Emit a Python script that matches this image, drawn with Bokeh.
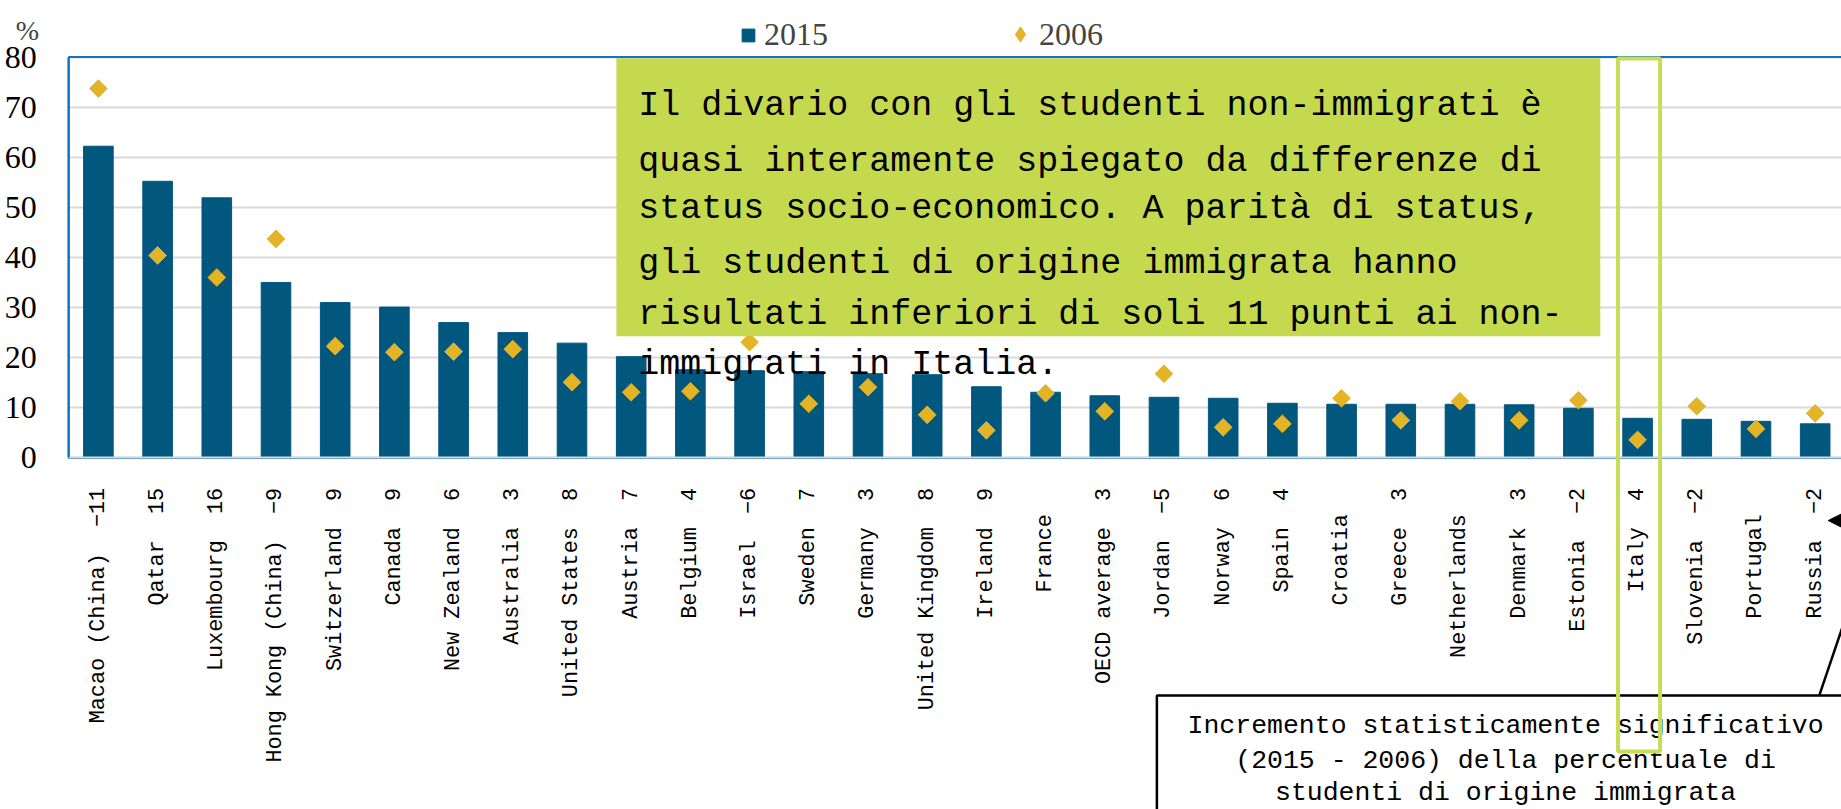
import numpy as np
from bokeh.plotting import figure
from bokeh.models import (ColumnDataSource, FixedTicker, BoxAnnotation, Label,
                          Legend, LegendItem, Arrow, NormalHead, Range1d)
from bokeh.embed import file_html
from bokeh.resources import INLINE

# ---------------- data ----------------
countries = ["Macao (China)", "Qatar", "Luxembourg", "Hong Kong (China)", "Switzerland",
             "Canada", "New Zealand", "Australia", "United States", "Austria", "Belgium",
             "Israel", "Sweden", "Germany", "United Kingdom", "Ireland", "France",
             "OECD average", "Jordan", "Norway", "Spain", "Croatia", "Greece", "Netherlands",
             "Denmark", "Estonia", "Italy", "Slovenia", "Portugal", "Russia"]
change_2015_2006 = ["\u221211", "15", "16", "\u22129", "9", "9", "6", "3", "8", "7", "4",
                    "\u22126", "7", "3", "8", "9", "", "3", "\u22125", "6", "4", "", "3", "",
                    "3", "\u22122", "4", "\u22122", "", "\u22122"]
share_2015 = [62.2, 55.2, 51.9, 35.0, 31.0, 30.1, 27.0, 25.0, 22.9, 20.2, 17.6, 17.4, 17.2,
              16.8, 16.6, 14.2, 13.1, 12.4, 12.1, 11.9, 10.9, 10.7, 10.7, 10.7, 10.6, 9.9,
              7.9, 7.7, 7.3, 6.8]
share_2006 = [73.7, 40.4, 36.0, 43.7, 22.3, 21.1, 21.2, 21.7, 15.1, 13.1, 13.3, 23.1, 10.8,
              14.1, 8.6, 5.5, 12.9, 9.3, 16.8, 6.1, 6.8, 11.9, 7.5, 11.3, 7.5, 11.5, 3.6,
              10.3, 5.8, 8.9]
y_ticks = [0, 10, 20, 30, 40, 50, 60, 70, 80]
series_names = ["2015", "2006"]

note_lines = ["Il divario con gli studenti non-immigrati è",
              "quasi interamente spiegato da differenze di",
              "status socio-economico. A parità di status,",
              "gli studenti di origine immigrata hanno",
              "risultati inferiori di soli 11 punti ai non-",
              "immigrati in Italia."]
callout_lines = ["Incremento statisticamente significativo",
                 "(2015 - 2006) della percentuale di",
                 "studenti di origine immigrata"]

# ---------------- styling ----------------
BAR = "#02577F"
GOLD = "#E3B426"
BLUE = "#1172C8"
GRID = "#D9D9D9"
LIME = "#C5D94E"
ITALY = "#C8DC55"
MONO = "Liberation Mono"
SERIF = "Liberation Serif"

W, H = 1841, 809

xs = list(range(len(countries)))
labels = [f"{c}\u00a0\u00a0{v}" if v else f"{c}\u00a0\u00a0"
          for c, v in zip(countries, change_2015_2006)]
src = ColumnDataSource(dict(x=xs, v2015=share_2015, v2006=share_2006, name=countries))

# the frame covers the whole canvas; axes sit at fixed data locations
p = figure(width=W, height=H, output_backend="svg", toolbar_location=None,
           x_range=Range1d(-1.6537, 29.4446), y_range=Range1d(-70.166, 91.279),
           min_border=0, min_border_left=0, min_border_right=0,
           min_border_top=0, min_border_bottom=0)
p.outline_line_color = None
p.background_fill_color = "white"

ticker_y = FixedTicker(ticks=y_ticks)
p.xgrid.grid_line_color = None
p.ygrid.ticker = ticker_y
p.ygrid.grid_line_color = GRID
p.ygrid.grid_line_width = 2

p.yaxis.fixed_location = -0.5
p.yaxis.bounds = (0, 80)
p.yaxis.ticker = ticker_y
p.yaxis.major_tick_line_color = None
p.yaxis.minor_tick_line_color = None
p.yaxis.axis_line_color = BLUE
p.yaxis.axis_line_width = 2
p.yaxis.major_label_text_font = SERIF
p.yaxis.major_label_text_font_size = "32px"
p.yaxis.major_label_text_color = "black"
p.yaxis.major_label_standoff = 26

p.xaxis.fixed_location = 0
p.xaxis.bounds = (-0.5, 29.5)
p.xaxis.ticker = FixedTicker(ticks=xs)
p.xaxis.major_label_overrides = {i: lab for i, lab in zip(xs, labels)}
p.xaxis.major_label_orientation = np.pi / 2
p.xaxis.major_tick_line_color = None
p.xaxis.minor_tick_line_color = None
p.xaxis.axis_line_color = GRID
p.xaxis.axis_line_width = 2
p.xaxis.major_label_text_font = MONO
p.xaxis.major_label_text_font_size = "21.8px"
p.xaxis.major_label_text_color = "black"
p.xaxis.major_label_standoff = 24

# hide grid lines left of the plot area, and draw the blue top/left border
p.add_layout(BoxAnnotation(left=-3, right=-0.5, top=100, bottom=-100, fill_color="white",
                           fill_alpha=1, line_color=None, level="underlay"))
p.add_layout(BoxAnnotation(left=-0.5, right=40, top=80, bottom=0, fill_alpha=0,
                           line_color=BLUE, line_alpha=1, line_width=2, level="underlay"))

bars = p.vbar(x="x", top="v2015", width=0.5, source=src, fill_color=BAR, line_color=BAR)
dots = p.scatter(x="x", y="v2006", marker="square", angle=np.pi / 4, size=12.5,
                 source=src, fill_color=GOLD, line_color=GOLD)

# legend swatches (no visible data of their own)
nan_src = ColumnDataSource(dict(x=[float("nan")], y=[float("nan")]))
sq_proxy = p.scatter(x="x", y="y", source=nan_src, marker="square", size=14,
                     fill_color=BAR, line_color=BAR)
dm_proxy = p.scatter(x="x", y="y", source=nan_src, marker="diamond", size=18,
                     fill_color=GOLD, line_color=GOLD)

legend_a = Legend(items=[LegendItem(label=series_names[0], renderers=[sq_proxy])],
                  orientation="horizontal", location=(732, 756),
                  background_fill_alpha=0, border_line_color=None, padding=0, margin=0,
                  glyph_width=32, glyph_height=32, label_standoff=0,
                  label_text_font=SERIF, label_text_font_size="32px")
legend_b = Legend(items=[LegendItem(label=series_names[1], renderers=[dm_proxy])],
                  orientation="horizontal", location=(1001, 756),
                  background_fill_alpha=0, border_line_color=None, padding=0, margin=0,
                  glyph_width=38, glyph_height=38, label_standoff=0,
                  label_text_font=SERIF, label_text_font_size="32px")
p.add_layout(legend_a)
p.add_layout(legend_b)

# "%" unit label
p.add_layout(Label(x=-1.2, y=85.3, text="%", text_align="center", text_font=SERIF,
                   text_font_size="28px", text_baseline="alphabetic"))

# green note box
p.add_layout(BoxAnnotation(left=8.75, right=25.37, top=79.77, bottom=24.3,
                           fill_color=LIME, fill_alpha=1, line_color=None))
note_y = [70.14, 59.02, 49.72, 38.74, 28.42, 18.44]
for t, yy in zip(note_lines, note_y):
    p.add_layout(Label(x=9.12, y=yy, text=t, text_font=MONO, text_font_size="35px",
                       text_baseline="alphabetic", text_color="black"))

# callout box
p.add_layout(BoxAnnotation(left=17.88, right=40, top=-47.4, bottom=-130,
                           fill_color="white", fill_alpha=1, line_color="black",
                           line_alpha=1, line_width=2.5))
call_y = [-53.6, -60.4, -66.97]
for t, yy in zip(callout_lines, call_y):
    p.add_layout(Label(x=23.77, y=yy, text=t, text_align="center", text_font=MONO,
                       text_font_size="26.5px", text_baseline="alphabetic",
                       text_color="black"))
p.add_layout(Arrow(x_start=29.07, y_start=-47.4, x_end=30.07, y_end=-12.5, end=None,
                   line_color="black", line_width=2.5))
p.add_layout(Arrow(x_start=30.07, y_start=-12.5, x_end=29.22, y_end=-12.5,
                   end=NormalHead(size=13, fill_color="black", line_color="black"),
                   line_color="black", line_width=2.5))

# Italy highlight
p.add_layout(BoxAnnotation(left=25.67, right=26.38, top=79.7, bottom=-58.6,
                           fill_alpha=0, line_color=ITALY, line_alpha=1, line_width=4))

open("out.html", "w").write(file_html(p, INLINE))
